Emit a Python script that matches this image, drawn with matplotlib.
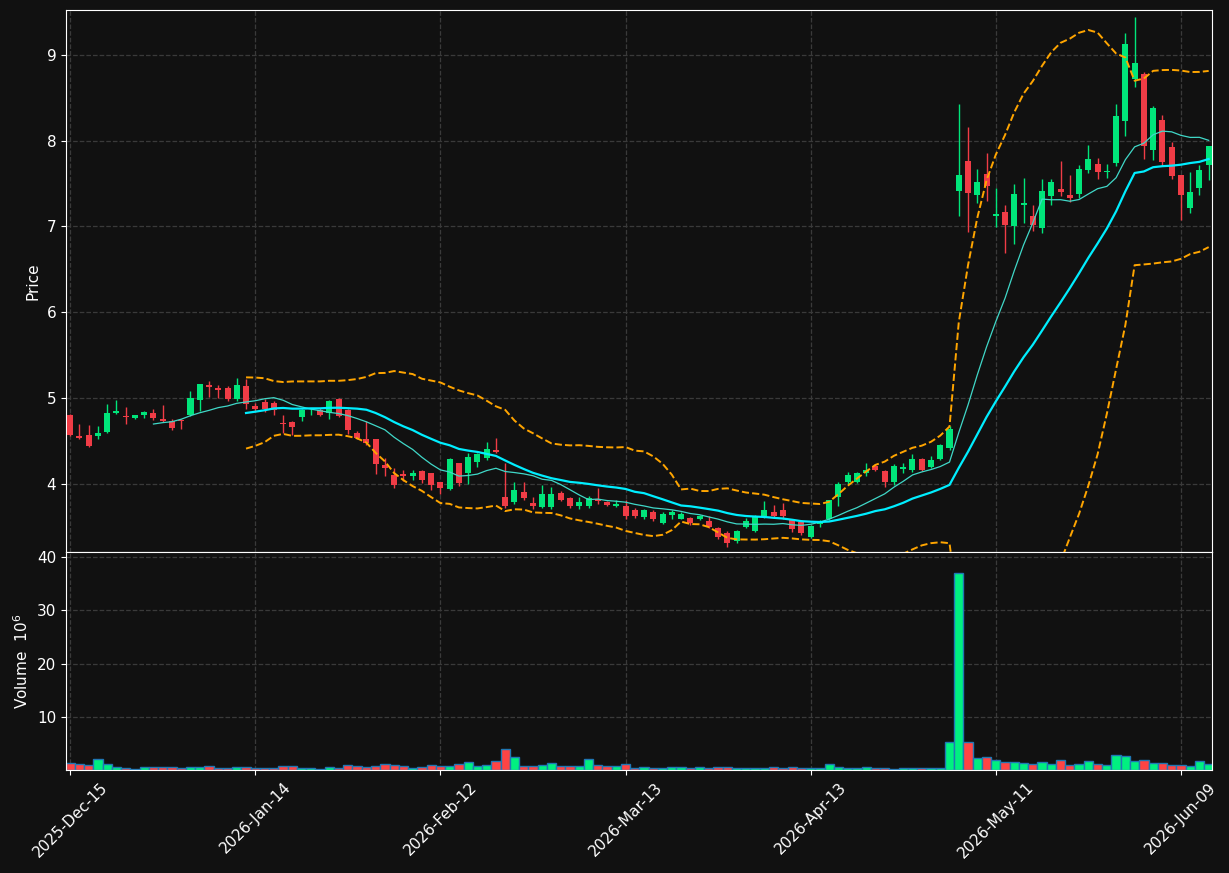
import matplotlib
matplotlib.use("Agg")
import matplotlib.pyplot as plt
import numpy as np
import pandas as pd

opens = [4.80,4.56,4.57,4.56,4.61,4.83,4.79,4.77,4.80,4.82,4.76,4.73,4.74,4.80,4.98,5.15,5.12,5.11,4.99,5.14,
         4.91,4.95,4.94,4.71,4.72,4.78,4.84,4.86,4.83,4.99,4.86,4.59,4.52,4.52,4.22,4.10,4.11,4.09,4.15,4.12,
         4.02,3.94,4.24,4.13,4.26,4.30,4.39,3.85,3.79,3.91,3.78,3.73,3.73,3.89,3.83,3.75,3.75,3.82,3.79,3.74,
         3.74,3.69,3.62,3.67,3.55,3.64,3.60,3.60,3.60,3.57,3.48,3.43,3.34,3.50,3.45,3.63,3.67,3.70,3.58,3.56,
         3.39,3.54,3.60,3.85,4.02,4.03,4.13,4.21,4.15,4.02,4.18,4.16,4.29,4.20,4.29,4.42,7.41,7.76,7.37,7.61,
         7.12,7.17,7.00,7.25,7.12,6.98,7.35,7.43,7.36,7.38,7.66,7.72,7.63,7.74,8.23,8.72,8.77,7.89,8.23,7.92,
         7.59,7.22,7.45,7.72]
closes = [4.57,4.54,4.44,4.59,4.82,4.85,4.78,4.80,4.84,4.77,4.73,4.65,4.73,5.00,5.16,5.13,5.10,4.99,5.15,4.93,
          4.87,4.88,4.86,4.70,4.66,4.86,4.84,4.80,4.96,4.79,4.63,4.54,4.48,4.24,4.19,3.99,4.10,4.12,4.05,3.99,
          3.96,4.29,4.01,4.31,4.35,4.40,4.37,3.74,3.93,3.84,3.74,3.88,3.88,3.82,3.75,3.79,3.83,3.80,3.76,3.76,
          3.63,3.63,3.69,3.59,3.65,3.67,3.65,3.55,3.62,3.50,3.38,3.31,3.45,3.57,3.62,3.70,3.63,3.63,3.48,3.43,
          3.51,3.55,3.81,4.00,4.10,4.12,4.16,4.17,4.02,4.21,4.19,4.29,4.16,4.28,4.45,4.64,7.59,7.39,7.51,7.47,
          7.14,7.02,7.37,7.27,7.02,7.41,7.51,7.40,7.33,7.67,7.78,7.64,7.64,8.28,9.12,8.90,7.94,8.38,7.75,7.59,
          7.37,7.40,7.65,7.93]
highs = [4.82,4.70,4.69,4.68,4.93,4.98,4.90,4.81,4.85,4.88,4.92,4.76,4.76,5.08,5.17,5.20,5.16,5.14,5.24,5.22,
         4.95,4.99,4.97,4.81,4.74,4.88,4.89,4.89,4.98,5.00,4.87,4.62,4.73,4.53,4.30,4.19,4.17,4.17,4.17,4.13,
         4.03,4.30,4.25,4.36,4.36,4.49,4.54,4.25,4.02,4.02,3.85,3.99,3.97,3.92,3.85,3.85,3.86,3.95,3.80,3.81,
         3.81,3.72,3.71,3.70,3.68,3.70,3.67,3.62,3.64,3.63,3.50,3.45,3.47,3.61,3.64,3.80,3.76,3.78,3.60,3.58,
         3.53,3.58,3.82,4.02,4.14,4.14,4.25,4.23,4.17,4.23,4.25,4.35,4.31,4.33,4.47,4.68,8.43,8.16,7.67,7.86,
         7.45,7.25,7.50,7.56,7.25,7.55,7.55,7.76,7.60,7.72,7.95,7.80,7.73,8.43,9.25,9.44,8.80,8.40,8.30,7.98,
         7.60,7.63,7.72,7.93]
lows = [4.56,4.52,4.43,4.53,4.60,4.82,4.70,4.76,4.77,4.75,4.72,4.63,4.64,4.79,4.85,5.02,5.00,4.97,4.97,4.88,
        4.85,4.84,4.80,4.59,4.57,4.73,4.80,4.79,4.76,4.78,4.58,4.52,4.46,4.12,4.10,3.96,4.04,4.05,4.01,3.93,
        3.88,3.93,3.98,4.00,4.20,4.28,4.36,3.72,3.77,3.81,3.71,3.72,3.71,3.80,3.72,3.71,3.72,3.77,3.74,3.73,
        3.59,3.61,3.60,3.57,3.54,3.60,3.59,3.53,3.58,3.49,3.36,3.27,3.32,3.49,3.44,3.61,3.61,3.60,3.44,3.41,
        3.37,3.50,3.58,3.75,4.00,4.01,4.10,4.15,3.97,3.99,4.13,4.14,4.15,4.19,4.28,4.40,7.12,6.94,7.27,7.30,
        6.99,6.69,6.80,7.04,6.95,6.92,7.25,7.35,7.28,7.33,7.62,7.55,7.56,7.70,8.05,8.62,7.78,7.77,7.70,7.55,
        7.08,7.16,7.37,7.54]
volumes = [1.26,1.07,0.88,2.0,1.07,0.5,0.3,0.13,0.5,0.5,0.5,0.5,0.3,0.5,0.5,0.7,0.3,0.3,0.5,0.5,
           0.3,0.3,0.3,0.7,0.7,0.3,0.3,0.13,0.5,0.3,0.88,0.7,0.5,0.7,1.07,0.88,0.7,0.3,0.5,0.88,
           0.7,0.7,1.07,1.45,0.7,0.88,1.64,3.9,2.4,0.7,0.7,0.88,1.26,0.7,0.7,0.7,2.0,0.88,0.7,0.7,
           1.07,0.3,0.5,0.3,0.3,0.5,0.5,0.3,0.5,0.3,0.5,0.5,0.3,0.3,0.3,0.3,0.5,0.3,0.5,0.3,
           0.3,0.3,1.07,0.5,0.3,0.3,0.5,0.3,0.3,0.13,0.3,0.3,0.3,0.3,0.3,5.2,37.0,5.2,2.2,2.4,
           1.8,1.45,1.45,1.26,1.07,1.45,1.07,1.8,0.88,1.07,1.64,1.07,0.88,2.8,2.6,1.64,1.8,1.26,1.26,0.88,
           0.88,0.7,1.64,1.07]
tick_pos = [0, 20, 40, 60, 80, 100, 120]
tick_labels = ["2025-Dec-15", "2026-Jan-14", "2026-Feb-12", "2026-Mar-13",
               "2026-Apr-13", "2026-May-11", "2026-Jun-09"]

BG = "#111111"
UP = "#00e57a"
DN = "#f03c46"
VUP = "#00f080"
VDN = "#ff4444"

o = np.array(opens); c = np.array(closes); h = np.array(highs); l = np.array(lows)
v = np.array(volumes)
x = np.arange(len(c))
s = pd.Series(c)
ma10 = s.rolling(10).mean()
ma20 = s.rolling(20).mean()
sd20 = s.rolling(20).std(ddof=0)
bu = ma20 + 2 * sd20
bl = ma20 - 2 * sd20

fig = plt.figure(figsize=(12.29, 8.73), dpi=100, facecolor=BG)
ax = fig.add_axes([0.0537, 0.3677, 0.9324, 0.6208], facecolor=BG)
axv = fig.add_axes([0.0537, 0.118, 0.9324, 0.2497], facecolor=BG, sharex=ax)

up = c >= o
cols = np.where(up, UP, DN)
ax.vlines(x, l, h, colors=cols, linewidth=1, zorder=2)
ax.bar(x, np.abs(c - o) + 0.004, bottom=np.minimum(o, c), width=0.65, color=cols, zorder=3)
ax.plot(x, ma10, color="#40d8c8", lw=0.9, zorder=4)
ax.plot(x, ma20, color="#00eeff", lw=1.6, zorder=4)
ax.plot(x, bu, color="#ffa500", lw=1.4, ls="--", zorder=4)
ax.plot(x, bl, color="#ffa500", lw=1.4, ls="--", zorder=4)
ax.set_ylim(3.21, 9.52)
ax.set_xlim(-0.45, 123.35)
ax.set_ylabel("Price", color="white", fontsize=11)

vcols = np.where(up, VUP, VDN)
axv.bar(x, v, width=1.0, color=vcols, edgecolor="#1f77b4", linewidth=1)
axv.set_ylim(0, 41)
axv.set_yticks([10, 20, 30, 40])
axv.set_ylabel("Volume  $10^{6}$", color="white", fontsize=11)

for a in (ax, axv):
    a.grid(True, color="#3a3a3a", ls="--", lw=0.9)
    a.set_axisbelow(True)
    for sp in a.spines.values():
        sp.set_color("white")
    a.tick_params(colors="white", labelsize=11)
ax.tick_params(labelbottom=False)
axv.set_xticks(tick_pos)
axv.set_xticklabels(tick_labels, rotation=45, ha="center")
fig.savefig("out.png", dpi=100, facecolor=BG)
